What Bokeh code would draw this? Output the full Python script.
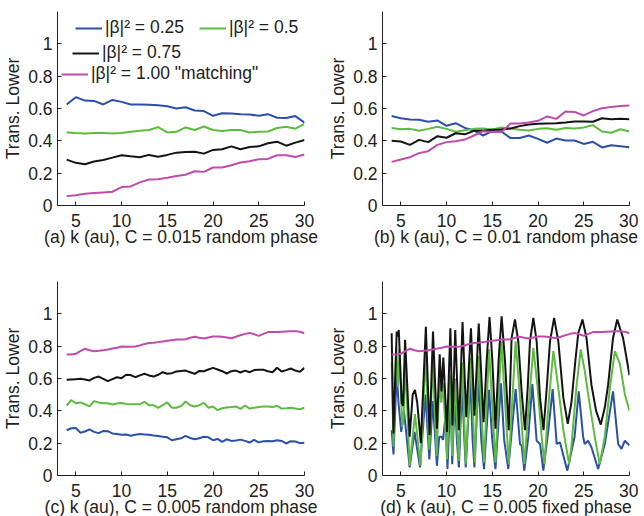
import numpy as np
from bokeh.plotting import figure
from bokeh.layouts import column, row
from bokeh.models import Legend, LegendItem, FixedTicker, Range1d
from bokeh.embed import file_html
from bokeh.resources import INLINE

# ---------------- data ----------------
k_int = list(range(4, 31))                      # panels (a), (b)
k_half = [4 + 0.5 * i for i in range(53)]       # panel (c), (d) matching

a_blue = [0.625, 0.67, 0.649, 0.647, 0.625, 0.653, 0.641, 0.625, 0.625, 0.623, 0.62, 0.614, 0.6, 0.608,
          0.588, 0.584, 0.555, 0.571, 0.569, 0.565, 0.563, 0.555, 0.565, 0.543, 0.541, 0.553, 0.512]
a_green = [0.452, 0.448, 0.446, 0.448, 0.448, 0.446, 0.448, 0.456, 0.463, 0.467, 0.485, 0.452, 0.456, 0.483,
           0.467, 0.489, 0.467, 0.461, 0.467, 0.467, 0.452, 0.456, 0.458, 0.479, 0.487, 0.475, 0.505]
a_black = [0.284, 0.264, 0.255, 0.272, 0.282, 0.296, 0.311, 0.304, 0.298, 0.313, 0.302, 0.313, 0.327, 0.331,
           0.333, 0.321, 0.344, 0.348, 0.366, 0.348, 0.362, 0.366, 0.385, 0.395, 0.37, 0.389, 0.405]
a_mag = [0.058, 0.063, 0.073, 0.077, 0.081, 0.085, 0.114, 0.118, 0.143, 0.161, 0.163, 0.171, 0.182, 0.19,
         0.212, 0.208, 0.235, 0.235, 0.249, 0.266, 0.274, 0.286, 0.288, 0.311, 0.311, 0.3, 0.315]

b_blue = [0.553, 0.540, 0.532, 0.530, 0.518, 0.526, 0.493, 0.509, 0.480, 0.464, 0.433, 0.460, 0.458, 0.417,
          0.417, 0.433, 0.412, 0.388, 0.414, 0.402, 0.402, 0.381, 0.394, 0.359, 0.373, 0.367, 0.361]
b_green = [0.480, 0.472, 0.474, 0.462, 0.474, 0.487, 0.474, 0.456, 0.466, 0.474, 0.476, 0.470, 0.482, 0.476,
           0.468, 0.464, 0.474, 0.478, 0.468, 0.480, 0.476, 0.482, 0.497, 0.458, 0.450, 0.472, 0.458]
b_black = [0.400, 0.396, 0.375, 0.406, 0.392, 0.429, 0.419, 0.447, 0.440, 0.462, 0.462, 0.468, 0.470, 0.476,
           0.491, 0.501, 0.505, 0.507, 0.509, 0.513, 0.520, 0.520, 0.518, 0.540, 0.534, 0.536, 0.534]
b_mag = [0.270, 0.285, 0.299, 0.324, 0.336, 0.375, 0.392, 0.398, 0.408, 0.433, 0.460, 0.454, 0.454, 0.507,
         0.507, 0.513, 0.524, 0.551, 0.536, 0.581, 0.579, 0.557, 0.584, 0.602, 0.610, 0.616, 0.619]

c_blue = [0.280, 0.292, 0.294, 0.265, 0.272, 0.285, 0.270, 0.262, 0.276, 0.274,
          0.260, 0.256, 0.252, 0.254, 0.246, 0.252, 0.256, 0.254, 0.252, 0.248,
          0.245, 0.240, 0.236, 0.218, 0.224, 0.230, 0.245, 0.232, 0.224, 0.230,
          0.240, 0.236, 0.218, 0.226, 0.208, 0.224, 0.214, 0.216, 0.222, 0.214,
          0.204, 0.220, 0.205, 0.212, 0.214, 0.212, 0.218, 0.214, 0.198, 0.212,
          0.210, 0.200, 0.202]
c_green = [0.433, 0.466, 0.447, 0.452, 0.441, 0.427, 0.460, 0.452, 0.447, 0.447,
           0.439, 0.445, 0.449, 0.443, 0.441, 0.441, 0.441, 0.456, 0.435, 0.435,
           0.419, 0.435, 0.452, 0.419, 0.419, 0.429, 0.458, 0.435, 0.427, 0.435,
           0.449, 0.419, 0.427, 0.404, 0.416, 0.421, 0.423, 0.427, 0.412, 0.433,
           0.414, 0.419, 0.423, 0.427, 0.427, 0.423, 0.431, 0.414, 0.416, 0.419,
           0.414, 0.410, 0.419]
c_black = [0.592, 0.594, 0.596, 0.598, 0.594, 0.588, 0.604, 0.612, 0.598, 0.584,
           0.596, 0.608, 0.602, 0.623, 0.621, 0.608, 0.619, 0.629, 0.619, 0.612,
           0.623, 0.639, 0.629, 0.633, 0.643, 0.647, 0.649, 0.639, 0.629, 0.647,
           0.645, 0.656, 0.666, 0.656, 0.645, 0.631, 0.645, 0.649, 0.637, 0.649,
           0.639, 0.652, 0.654, 0.654, 0.645, 0.639, 0.666, 0.643, 0.652, 0.662,
           0.649, 0.641, 0.666]
c_mag = [0.748, 0.748, 0.753, 0.769, 0.784, 0.775, 0.769, 0.771, 0.775, 0.779,
         0.786, 0.790, 0.798, 0.796, 0.796, 0.798, 0.804, 0.814, 0.819, 0.821,
         0.825, 0.829, 0.833, 0.837, 0.841, 0.841, 0.843, 0.852, 0.858, 0.852,
         0.847, 0.854, 0.860, 0.860, 0.858, 0.854, 0.849, 0.858, 0.868, 0.876,
         0.882, 0.874, 0.864, 0.876, 0.887, 0.887, 0.887, 0.889, 0.891, 0.893,
         0.893, 0.889, 0.880]

d_blue_k = [4.0, 4.2, 4.55, 4.75, 5.05, 5.35, 5.97, 6.5, 7.1, 7.7, 8.12, 8.5, 8.95, 9.2, 9.45, 9.62, 9.9,
            10.1, 10.45, 10.62, 10.9, 11.15, 11.35, 11.7, 11.95, 12.1, 12.6, 12.85, 13.05, 13.5, 13.8,
            14.1, 14.65, 15.0, 15.35, 15.95, 16.3, 16.75, 17.55, 18.03, 18.21, 18.5, 18.94, 19.38, 19.85,
            20.22, 20.58, 21.13, 21.6, 22.04, 22.4, 23.2, 24.0, 24.45, 24.93, 25.1, 25.47, 25.84, 26.57,
            27.3, 28.2, 28.76, 29.12, 29.49, 29.85, 30.0]
d_blue = [0.28, 0.13, 0.63, 0.45, 0.27, 0.40, 0.05, 0.27, 0.05, 0.50, 0.10, 0.46, 0.06, 0.24, 0.24, 0.22, 0.38,
          0.04, 0.53, 0.07, 0.50, 0.20, 0.05, 0.57, 0.22, 0.05, 0.60, 0.22, 0.05, 0.61, 0.22,
          0.04, 0.53, 0.22, 0.04, 0.57, 0.22, 0.04, 0.534, 0.195, 0.185, 0.03, 0.24, 0.565, 0.215,
          0.195, 0.03, 0.28, 0.534, 0.195, 0.205, 0.03, 0.24, 0.52, 0.24, 0.195, 0.215, 0.175, 0.04,
          0.195, 0.52, 0.195, 0.165, 0.215, 0.195, 0.185]
d_green_k = [4.0, 4.2, 4.5, 4.7, 4.85, 5.15, 5.3, 5.5, 5.97, 6.55, 7.15, 7.72, 8.12, 8.5, 8.92, 9.22, 9.42,
             9.62, 10.05, 10.4, 10.62, 10.92, 11.33, 11.72, 12.1, 12.65, 13.1, 13.5, 14.1, 14.65, 15.35,
             16.0, 16.8, 17.55, 18.03, 18.5, 19.0, 19.49, 19.96, 20.4, 20.7, 21.2, 21.68, 22.22, 22.77,
             23.4, 23.65, 24.2, 24.67, 25.1, 25.65, 26.2, 26.75, 27.3, 27.85, 28.4, 28.95, 29.5, 30.0]
d_green = [0.70, 0.18, 0.80, 0.55, 0.78, 0.30, 0.35, 0.70, 0.06, 0.38, 0.06, 0.74, 0.16, 0.71, 0.12, 0.59, 0.45,
           0.57, 0.10, 0.62, 0.12, 0.60, 0.09, 0.70, 0.07, 0.73, 0.08, 0.74, 0.08, 0.78, 0.08,
           0.83, 0.07, 0.83, 0.48, 0.07, 0.44, 0.79, 0.54, 0.24, 0.07, 0.48, 0.77, 0.54, 0.28,
           0.07, 0.18, 0.55, 0.78, 0.65, 0.44, 0.24, 0.07, 0.24, 0.54, 0.77, 0.69, 0.50, 0.40]
d_black_k = [4.0, 4.2, 4.55, 4.66, 4.78, 5.1, 5.25, 5.47, 5.97, 6.3, 6.55, 6.8, 7.19, 7.74, 8.15, 8.52, 8.95,
             9.25, 9.45, 9.65, 10.05, 10.42, 10.65, 10.95, 11.35, 11.75, 12.15, 12.67, 13.05, 13.52, 14.05,
             14.4, 14.7, 15.0, 15.35, 15.7, 16.02, 16.4, 16.8, 17.11, 17.48, 17.84, 18.21, 18.57, 18.87,
             19.12, 19.49, 19.85, 20.22, 20.6, 20.95, 21.31, 21.76, 22.22, 22.77, 23.25, 23.65, 24.1, 24.4,
             24.86, 25.3, 25.84, 26.35, 26.86, 27.3, 27.66, 28.2, 28.66, 29.3, 30.0]
d_black = [0.88, 0.26, 0.89, 0.86, 0.90, 0.45, 0.43, 0.84, 0.24, 0.50, 0.53, 0.45, 0.20, 0.92, 0.25, 0.89, 0.29,
           0.75, 0.52, 0.73, 0.27, 0.91, 0.31, 0.90, 0.28, 0.95, 0.36, 0.91, 0.37, 0.94, 0.33,
           0.72, 0.98, 0.72, 0.29, 0.72, 0.985, 0.70, 0.28, 0.85, 0.965, 0.83, 0.52, 0.28, 0.54,
           0.83, 0.975, 0.83, 0.48, 0.28, 0.54, 0.83, 0.975, 0.83, 0.48, 0.32, 0.45, 0.72, 0.88,
           0.965, 0.85, 0.56, 0.40, 0.315, 0.42, 0.56, 0.85, 0.965, 0.85, 0.62]
d_mag = [0.748, 0.748, 0.753, 0.769, 0.784, 0.775, 0.769, 0.771, 0.775, 0.779,
         0.786, 0.790, 0.798, 0.796, 0.796, 0.798, 0.804, 0.814, 0.819, 0.821,
         0.825, 0.829, 0.833, 0.837, 0.841, 0.841, 0.843, 0.852, 0.858, 0.852,
         0.847, 0.854, 0.860, 0.860, 0.858, 0.854, 0.849, 0.858, 0.868, 0.876,
         0.882, 0.874, 0.864, 0.876, 0.887, 0.887, 0.887, 0.889, 0.891, 0.893,
         0.893, 0.889, 0.880]

x_ticks = [5, 10, 15, 20, 25, 30]
y_ticks = [0, 0.2, 0.4, 0.6, 0.8, 1]
y_tick_labels = ["0", "0.2", "0.4", "0.6", "0.8", "1"]

series_labels = ["|β|² = 0.25", "|β|² = 0.5", "|β|² = 0.75", "|β|² = 1.00 \"matching\""]
colors = ["#2B4FAA", "#5DBB3F", "#141414", "#C04BAE"]
panel_xlabels = ["(a) k (au), C = 0.015 random phase",
                 "(b) k (au), C = 0.01 random phase",
                 "(c) k (au), C = 0.005 random phase",
                 "(d) k (au), C = 0.005 fixed phase"]
y_label = "Trans. Lower"

# ---------------- styling ----------------
FONT = "Liberation Sans"
TXT = "#222222"
FS = "17.5px"


def make_panel(xlabel, bl, br, bt, bb):
    p = figure(frame_width=247, frame_height=194, x_range=Range1d(3, 30), y_range=Range1d(0, 1.2),
               output_backend="svg", toolbar_location=None,
               min_border_left=bl, min_border_right=br, min_border_top=bt, min_border_bottom=bb)
    p.outline_line_color = None
    p.xgrid.visible = False
    p.ygrid.visible = False
    p.xaxis.ticker = FixedTicker(ticks=x_ticks)
    p.yaxis.ticker = FixedTicker(ticks=y_ticks)
    p.yaxis.major_label_overrides = dict(zip(y_ticks, y_tick_labels))
    for ax in (p.xaxis[0], p.yaxis[0]):
        ax.axis_line_color = TXT
        ax.axis_line_width = 1
        ax.major_tick_in = 4
        ax.major_tick_out = 0
        ax.major_tick_line_color = TXT
        ax.minor_tick_line_color = None
        ax.major_label_text_font = FONT
        ax.major_label_text_font_size = FS
        ax.major_label_text_color = TXT
        ax.axis_label_text_font = FONT
        ax.axis_label_text_font_size = FS
        ax.axis_label_text_font_style = "normal"
        ax.axis_label_text_color = TXT
    p.xaxis.axis_label = xlabel
    p.yaxis.axis_label = y_label
    p.xaxis.major_label_standoff = 8
    p.xaxis.axis_label_standoff = -3
    p.yaxis.major_label_standoff = 5
    p.yaxis.axis_label_standoff = 2
    return p


def draw(p, xs_list, ys_list):
    rs = []
    for xs, ys, c in zip(xs_list, ys_list, colors):
        rs.append(p.line(xs, ys, line_color=c, line_width=2))
    return rs


def legend(p, items, loc, spacing=15):
    leg = Legend(items=[LegendItem(label=l, renderers=[r]) for l, r in items],
                 location=loc, orientation="horizontal", spacing=spacing,
                 padding=0, margin=0, glyph_width=27, glyph_height=20, label_height=20,
                 label_standoff=3, label_text_font=FONT, label_text_font_size=FS,
                 label_text_color=TXT, border_line_alpha=0, background_fill_alpha=0)
    p.add_layout(leg)


pa = make_panel(panel_xlabels[0], 52, 21, 11, 60)
pb = make_panel(panel_xlabels[1], 52, 9, 11, 60)
pc = make_panel(panel_xlabels[2], 52, 21, 16, 39)
pd = make_panel(panel_xlabels[3], 52, 9, 16, 39)

ra = draw(pa, [k_int] * 4, [a_blue, a_green, a_black, a_mag])
draw(pb, [k_int] * 4, [b_blue, b_green, b_black, b_mag])
draw(pc, [k_half] * 4, [c_blue, c_green, c_black, c_mag])
draw(pd, [d_blue_k, d_green_k, d_black_k, k_half], [d_blue, d_green, d_black, d_mag])

legend(pa, [(series_labels[0], ra[0]), (series_labels[1], ra[1])], (18, 167))
legend(pa, [(series_labels[2], ra[2])], (15, 142))
legend(pa, [(series_labels[3], ra[3])], (4, 121))

layout = column(row(pa, pb), row(pc, pd))
open("out.html", "w").write(file_html(layout, INLINE))
